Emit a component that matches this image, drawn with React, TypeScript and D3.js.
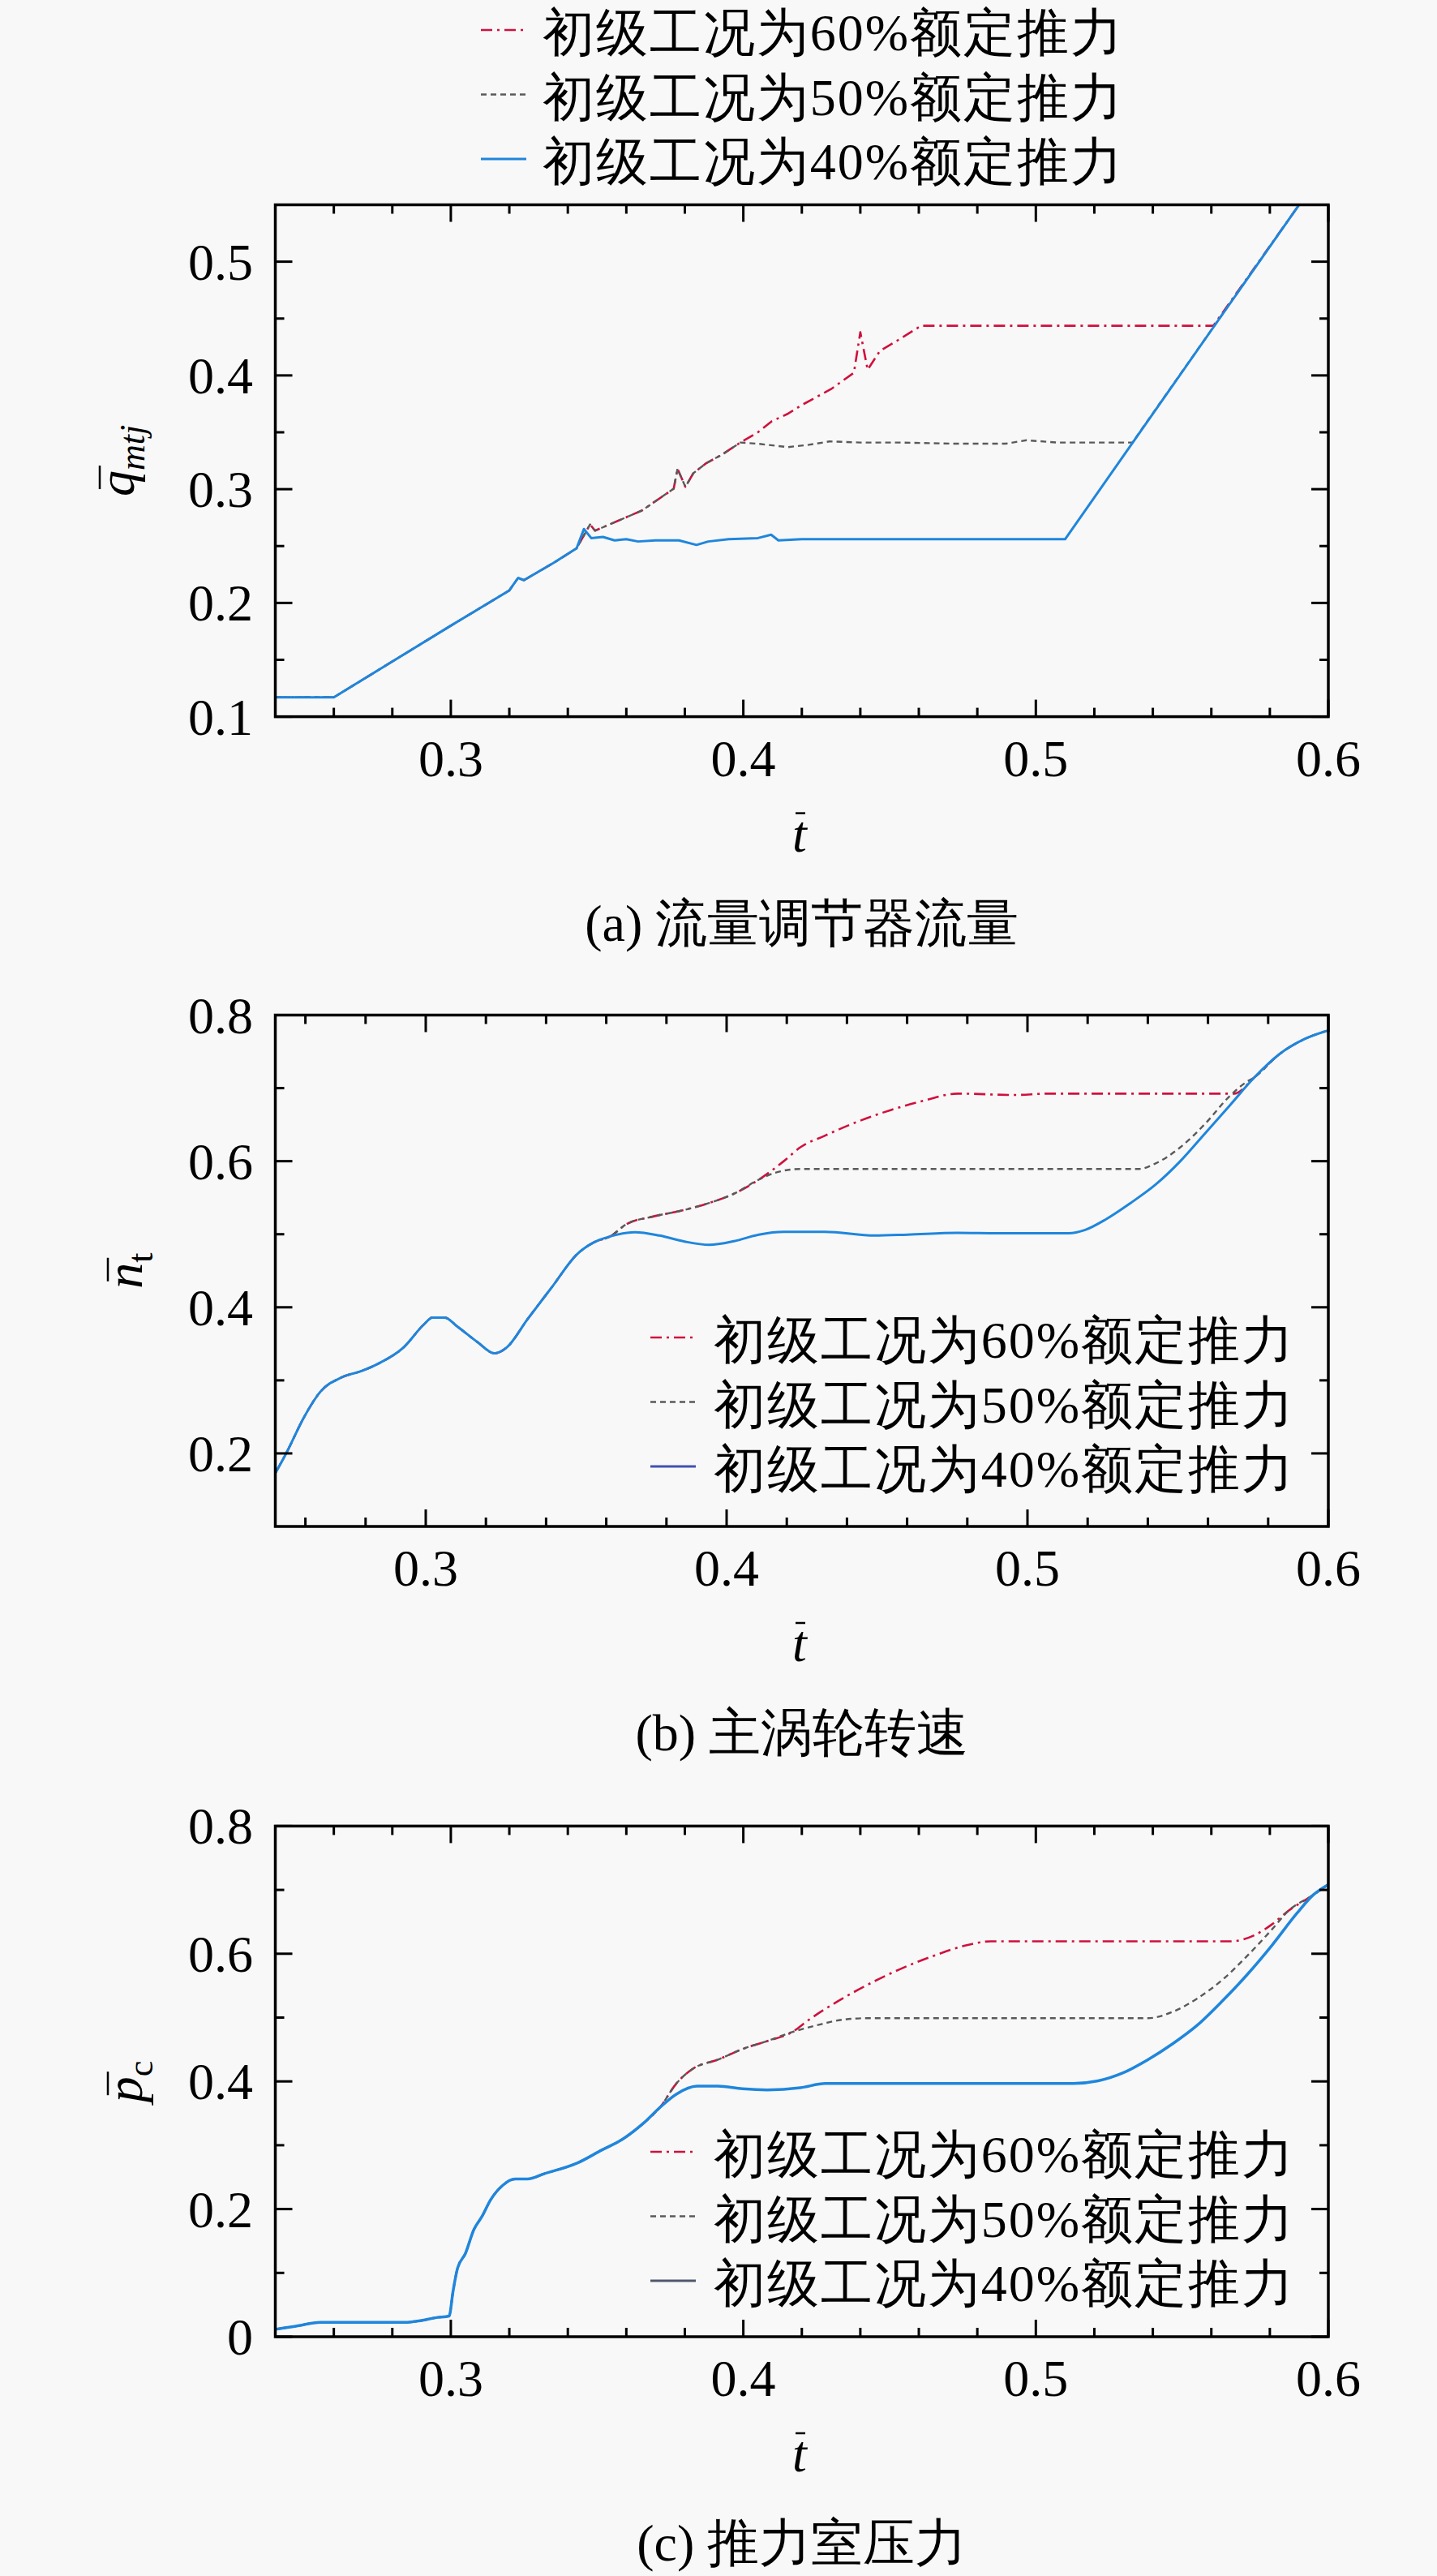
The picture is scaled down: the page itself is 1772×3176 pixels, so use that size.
import React from 'react';
import * as d3 from 'd3';

// ---------------- data ----------------
const seriesNames = ['初级工况为60%额定推力', '初级工况为50%额定推力', '初级工况为40%额定推力'];

// (a) flow regulator flow  [t, q]
const aShared: [number, number][] = [
  [0.24, 0.117], [0.26, 0.117], [0.30, 0.180], [0.32, 0.211], [0.323, 0.222], [0.325, 0.220],
  [0.335, 0.235], [0.343, 0.248],
];
const a40: [number, number][] = [
  ...aShared,
  [0.3455, 0.265], [0.348, 0.257], [0.352, 0.258], [0.356, 0.255], [0.36, 0.256], [0.364, 0.254],
  [0.37, 0.255], [0.378, 0.255], [0.384, 0.251], [0.388, 0.254], [0.395, 0.256], [0.405, 0.257],
  [0.4095, 0.260], [0.412, 0.255], [0.42, 0.256], [0.51, 0.256], [0.59, 0.55],
];
const a50: [number, number][] = [
  ...aShared,
  [0.3476, 0.269], [0.3493, 0.2635], [0.3653, 0.2812], [0.3762, 0.3004], [0.3775, 0.318],
  [0.3802, 0.302], [0.3829, 0.314], [0.3873, 0.3228], [0.3926, 0.3302], [0.399, 0.341],
  [0.4047, 0.340], [0.4153, 0.337], [0.4224, 0.339], [0.4295, 0.342], [0.44, 0.341], [0.4542, 0.341],
  [0.472, 0.340], [0.4897, 0.340], [0.4968, 0.343], [0.5075, 0.341], [0.5252, 0.341], [0.533, 0.341],
  [0.59, 0.55],
];
const a60: [number, number][] = [
  ...aShared,
  [0.3476, 0.269], [0.3493, 0.2635], [0.3653, 0.2812], [0.3762, 0.3004], [0.3775, 0.318],
  [0.3802, 0.302], [0.3829, 0.314], [0.3873, 0.3228], [0.3926, 0.3302], [0.399, 0.341],
  [0.405, 0.350], [0.4096, 0.3595], [0.415, 0.366], [0.42, 0.374], [0.43, 0.388], [0.4378, 0.4023],
  [0.44, 0.438], [0.4425, 0.405], [0.4467, 0.4216], [0.4535, 0.432], [0.4608, 0.4437],
  [0.5607, 0.4437], [0.59, 0.55],
];

// (b) main turbine speed [t, n]
const bShared: [number, number][] = [
  [0.25, 0.173], [0.2536, 0.2], [0.2596, 0.25], [0.2651, 0.285], [0.272, 0.304], [0.2788, 0.313],
  [0.2843, 0.323], [0.2926, 0.345], [0.2995, 0.377], [0.3022, 0.386], [0.3063, 0.386], [0.3104, 0.374],
  [0.3173, 0.352], [0.3228, 0.337], [0.3269, 0.345], [0.3338, 0.3835], [0.342, 0.428], [0.3503, 0.4727],
  [0.3558, 0.4887], [0.3613, 0.497],
];
const bTail: [number, number][] = [
  [0.5755, 0.715], [0.5838, 0.7467], [0.592, 0.767], [0.6, 0.779],
];
const b40: [number, number][] = [
  ...bShared,
  [0.3695, 0.5027], [0.3777, 0.4982], [0.386, 0.49], [0.3942, 0.4855], [0.4025, 0.4906], [0.4107, 0.4995],
  [0.419, 0.5033], [0.4327, 0.5033], [0.4492, 0.4982], [0.4602, 0.4995], [0.4767, 0.502], [0.4904, 0.5014],
  [0.5137, 0.5014], [0.5192, 0.506], [0.5261, 0.5205], [0.5343, 0.5428], [0.5426, 0.568], [0.5508, 0.6],
  [0.559, 0.638], [0.5673, 0.6766],
  ...bTail,
];
const b50: [number, number][] = [
  ...bShared,
  [0.3668, 0.514], [0.375, 0.5237], [0.386, 0.5333], [0.3942, 0.5428], [0.4025, 0.5556], [0.4107, 0.5747],
  [0.4162, 0.5842], [0.4245, 0.5893], [0.5371, 0.5893], [0.5426, 0.597], [0.5508, 0.619], [0.559, 0.651],
  [0.5673, 0.6894], [0.5728, 0.7085],
  ...bTail,
];
const b60: [number, number][] = [
  ...bShared,
  [0.3668, 0.514], [0.375, 0.5237], [0.386, 0.5333], [0.3942, 0.5428], [0.4025, 0.5556], [0.4107, 0.5747],
  [0.419, 0.6], [0.4245, 0.619], [0.4327, 0.635], [0.4437, 0.6543], [0.4547, 0.6702], [0.4657, 0.683],
  [0.4767, 0.6925], [0.4959, 0.6906], [0.5069, 0.6925], [0.5687, 0.6925],
  ...bTail,
];

// (c) thrust chamber pressure [t, p]
const cShared: [number, number][] = [
  [0.24, 0.0116], [0.2471, 0.0166], [0.2555, 0.0225], [0.2838, 0.0225], [0.2895, 0.025], [0.2951, 0.03],
  [0.2994, 0.0324], [0.3008, 0.0723], [0.3022, 0.1056], [0.305, 0.1306], [0.3079, 0.168], [0.3107, 0.1888],
  [0.3135, 0.2137], [0.3177, 0.237], [0.322, 0.247], [0.3262, 0.247], [0.3319, 0.2553], [0.3432, 0.272],
  [0.3517, 0.2927], [0.3587, 0.3094], [0.3658, 0.3343], [0.3715, 0.3593],
];
const cTail: [number, number][] = [[0.5948, 0.692], [0.6, 0.7085]];
const c40: [number, number][] = [
  ...cShared,
  [0.3771, 0.38], [0.3842, 0.3925], [0.3913, 0.3925], [0.3997, 0.3884], [0.4082, 0.3867], [0.4195, 0.39],
  [0.428, 0.3967], [0.5128, 0.3967], [0.5213, 0.4008], [0.5298, 0.4133], [0.5383, 0.434], [0.5468, 0.459],
  [0.5552, 0.488], [0.5637, 0.5256], [0.5722, 0.567], [0.5807, 0.613], [0.5892, 0.663],
  ...cTail,
];
const c50: [number, number][] = [
  ...cShared,
  [0.3771, 0.3967], [0.3828, 0.42], [0.3913, 0.434], [0.3997, 0.4507], [0.4082, 0.4632], [0.4167, 0.4773],
  [0.4252, 0.488], [0.4337, 0.4965], [0.4421, 0.499], [0.5383, 0.499], [0.5468, 0.509], [0.5552, 0.53],
  [0.5637, 0.5588], [0.5722, 0.5963], [0.5807, 0.638], [0.5863, 0.667],
  ...cTail,
];
const c60: [number, number][] = [
  ...cShared,
  [0.3771, 0.3967], [0.3828, 0.42], [0.3913, 0.434], [0.3997, 0.4507], [0.4082, 0.4632], [0.4167, 0.4773],
  [0.4224, 0.4965], [0.4308, 0.5214], [0.4421, 0.5505], [0.4534, 0.5755], [0.4648, 0.5963], [0.4761, 0.613],
  [0.4846, 0.6195], [0.5665, 0.6195], [0.575, 0.6295], [0.5807, 0.646], [0.5863, 0.667],
  ...cTail,
];

// ticks
const xMajor = [0.3, 0.4, 0.5, 0.6];
const xMajorLabels = ['0.3', '0.4', '0.5', '0.6'];
const xMinorA = [0.24, 0.26, 0.28, 0.32, 0.34, 0.36, 0.38, 0.42, 0.44, 0.46, 0.48, 0.52, 0.54, 0.56, 0.58];
const xMinorB = [0.26, 0.28, 0.32, 0.34, 0.36, 0.38, 0.42, 0.44, 0.46, 0.48, 0.52, 0.54, 0.56, 0.58];
const aYMajor = [0.1, 0.2, 0.3, 0.4, 0.5];
const aYLabels = ['0.1', '0.2', '0.3', '0.4', '0.5'];
const aYMinor = [0.15, 0.25, 0.35, 0.45];
const bYMajor = [0.2, 0.4, 0.6, 0.8];
const bYLabels = ['0.2', '0.4', '0.6', '0.8'];
const bYMinor = [0.3, 0.5, 0.7];
const cYMajor = [0, 0.2, 0.4, 0.6, 0.8];
const cYLabels = ['0', '0.2', '0.4', '0.6', '0.8'];
const cYMinor = [0.1, 0.3, 0.5, 0.7];

const captions = ['(a) 流量调节器流量', '(b) 主涡轮转速', '(c) 推力室压力'];

// ---------------- style ----------------
const SERIF = 'Liberation Serif, Tinos, Times New Roman, DejaVu Serif, serif';
const COLORS = ['#d0103c', '#5a5a5a', '#1f86dc'];
const DASHES = ['14 6 3 6', '7 5', ''];
const WIDTHS = [2.6, 2.4, 3];
const LEFT = 339.5;
const RIGHT = 1638;

type Pts = [number, number][];

interface PanelProps {
  id: string;
  top: number;
  bottom: number;
  xDomain: [number, number];
  yDomain: [number, number];
  xMinor: number[];
  yMajor: number[];
  yLabels: string[];
  yMinor: number[];
  series: Pts[];
  smooth: boolean;
  legend: { lineX: number; textX: number; baseY: number; lineColors: string[] };
  caption: string;
  yMain: string;
  ySub: string;
  ySubItalic: boolean;
  yLabelX: number;
  blueWidth: number;
}

const txt = (size: number, italic = false): React.CSSProperties => ({
  fontFamily: SERIF,
  fontSize: size,
  fontStyle: italic ? 'italic' : 'normal',
});

function Panel(p: PanelProps) {
  const x = d3.scaleLinear().domain(p.xDomain).range([LEFT, RIGHT]);
  const y = d3.scaleLinear().domain(p.yDomain).range([p.bottom, p.top]);
  const line = d3
    .line<[number, number]>()
    .x((d) => x(d[0]))
    .y((d) => y(d[1]))
    .curve(p.smooth ? d3.curveMonotoneX : d3.curveLinear);
  const maj = 21;
  const min = 11;
  const cx = (LEFT + RIGHT) / 2;
  const cy = (p.top + p.bottom) / 2;
  const mainW = 32;
  const subW = p.ySub === 'mtj' ? 56 : p.ySub === 't' ? 12 : 20;
  const total = mainW + subW;
  return (
    <g>
      <defs>
        <clipPath id={`clip-${p.id}`}>
          <rect x={LEFT} y={p.top} width={RIGHT - LEFT} height={p.bottom - p.top} />
        </clipPath>
      </defs>
      <g clipPath={`url(#clip-${p.id})`}>
        {p.series.map((s, i) => (
          <path
            key={i}
            d={line(s) || ''}
            fill="none"
            stroke={COLORS[i]}
            strokeWidth={i === 2 ? p.blueWidth : WIDTHS[i]}
            strokeDasharray={DASHES[i] || undefined}
            strokeLinejoin="round"
          />
        ))}
      </g>
      {/* frame */}
      <rect x={LEFT} y={p.top} width={RIGHT - LEFT} height={p.bottom - p.top} fill="none" stroke="#000" strokeWidth={3.5} />
      {/* x ticks */}
      {xMajor.map((v, i) => (
        <g key={'xm' + i}>
          <line x1={x(v)} x2={x(v)} y1={p.bottom} y2={p.bottom - maj} stroke="#000" strokeWidth={3} />
          <line x1={x(v)} x2={x(v)} y1={p.top} y2={p.top + maj} stroke="#000" strokeWidth={3} />
          <text x={x(v)} y={p.bottom + 73} textAnchor="middle" style={txt(64)}>
            {xMajorLabels[i]}
          </text>
        </g>
      ))}
      {p.xMinor.map((v, i) => (
        <g key={'xn' + i}>
          <line x1={x(v)} x2={x(v)} y1={p.bottom} y2={p.bottom - min} stroke="#000" strokeWidth={3} />
          <line x1={x(v)} x2={x(v)} y1={p.top} y2={p.top + min} stroke="#000" strokeWidth={3} />
        </g>
      ))}
      {/* y ticks */}
      {p.yMajor.map((v, i) => (
        <g key={'ym' + i}>
          <line x1={LEFT} x2={LEFT + maj} y1={y(v)} y2={y(v)} stroke="#000" strokeWidth={3} />
          <line x1={RIGHT} x2={RIGHT - maj} y1={y(v)} y2={y(v)} stroke="#000" strokeWidth={3} />
          <text x={312} y={y(v) + 22} textAnchor="end" style={txt(64)}>
            {p.yLabels[i]}
          </text>
        </g>
      ))}
      {p.yMinor.map((v, i) => (
        <g key={'yn' + i}>
          <line x1={LEFT} x2={LEFT + min} y1={y(v)} y2={y(v)} stroke="#000" strokeWidth={3} />
          <line x1={RIGHT} x2={RIGHT - min} y1={y(v)} y2={y(v)} stroke="#000" strokeWidth={3} />
        </g>
      ))}
      {/* x label t-bar */}
      <text x={986} y={p.bottom + 166} textAnchor="middle" style={txt(64, true)}>
        t
      </text>
      <line x1={981} x2={993} y1={p.bottom + 119} y2={p.bottom + 119} stroke="#000" strokeWidth={2.5} />
      {/* y label */}
      <g transform={`translate(${p.yLabelX},${cy}) rotate(-90)`}>
        <text x={-total / 2} y={0} style={txt(64)}>
          <tspan style={{ fontStyle: 'italic' }}>{p.yMain}</tspan>
          <tspan dy={13} style={{ fontSize: 44, fontStyle: p.ySubItalic ? 'italic' : 'normal' }}>
            {p.ySub}
          </tspan>
        </text>
        <line x1={-total / 2 + 9} x2={-total / 2 + 38} y1={-42} y2={-42} stroke="#000" strokeWidth={2.5} />
      </g>
      {/* legend */}
      {seriesNames.map((name, i) => (
        <g key={'lg' + i}>
          <line
            x1={p.legend.lineX}
            x2={p.legend.lineX + 56}
            y1={p.legend.baseY + i * 79.5 - 25}
            y2={p.legend.baseY + i * 79.5 - 25}
            stroke={p.legend.lineColors[i]}
            strokeWidth={i === 2 ? 3 : 2.6}
            strokeDasharray={DASHES[i] || undefined}
          />
          <text
            x={p.legend.textX}
            y={p.legend.baseY + i * 79.5}
            style={txt(64)}
            textLength={715}
            lengthAdjust="spacing"
          >
            {name}
          </text>
        </g>
      ))}
      {/* caption */}
      <text x={cx} y={p.bottom + 276} textAnchor="middle" style={txt(64)}>
        {p.caption}
      </text>
    </g>
  );
}

export default function App() {
  return (
    <svg
      width={1772}
      height={3176}
      viewBox="0 0 1772 3176"
      style={{ position: 'absolute', left: 0, top: 0, display: 'block' }}
    >
      <rect x={0} y={0} width={1772} height={3176} fill="#f8f8f8" />
      <Panel
        id="a"
        top={252.5}
        bottom={883.6}
        xDomain={[0.24, 0.6]}
        yDomain={[0.1, 0.55]}
        xMinor={xMinorA}
        yMajor={aYMajor}
        yLabels={aYLabels}
        yMinor={aYMinor}
        series={[a60, a50, a40]}
        smooth={false}
        legend={{ lineX: 593, textX: 669, baseY: 62, lineColors: COLORS }}
        caption={captions[0]}
        yMain="q"
        ySub="mtj"
        ySubItalic={true}
        yLabelX={165}
        blueWidth={3}
      />
      <Panel
        id="b"
        top={1251.5}
        bottom={1882}
        xDomain={[0.25, 0.6]}
        xMinor={xMinorB}
        yDomain={[0.1, 0.8]}
        yMajor={bYMajor}
        yLabels={bYLabels}
        yMinor={bYMinor}
        series={[b60, b50, b40]}
        smooth={true}
        legend={{ lineX: 802, textX: 880, baseY: 1674, lineColors: [COLORS[0], COLORS[1], '#4050b0'] }}
        caption={captions[1]}
        yMain="n"
        ySub="t"
        ySubItalic={false}
        yLabelX={175}
        blueWidth={3}
      />
      <Panel
        id="c"
        top={2251.4}
        bottom={2881}
        xDomain={[0.24, 0.6]}
        xMinor={xMinorA}
        yDomain={[0, 0.8]}
        yMajor={cYMajor}
        yLabels={cYLabels}
        yMinor={cYMinor}
        series={[c60, c50, c40]}
        smooth={true}
        legend={{ lineX: 802, textX: 880, baseY: 2678, lineColors: [COLORS[0], COLORS[1], '#505870'] }}
        caption={captions[2]}
        yMain="p"
        ySub="c"
        ySubItalic={false}
        yLabelX={175}
        blueWidth={3.5}
      />
    </svg>
  );
}
